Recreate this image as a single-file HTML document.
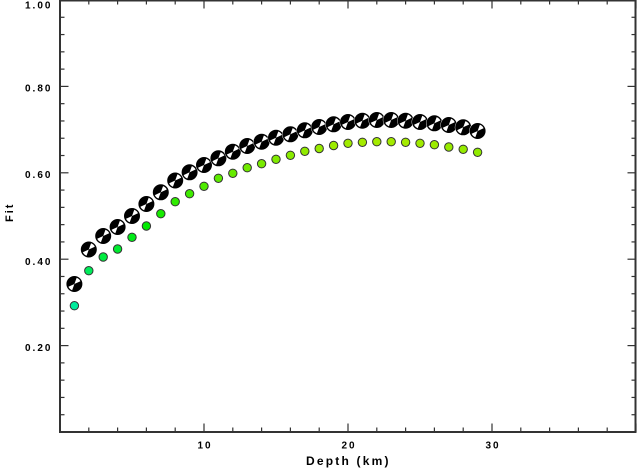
<!DOCTYPE html>
<html><head><meta charset="utf-8"><style>
html,body{margin:0;padding:0;background:#fff;}
svg{display:block;}
text{font-family:"Liberation Sans",Arial,sans-serif;font-weight:bold;fill:#000;}
</style></head><body>
<svg id="c" width="637" height="468" viewBox="0 0 637 468" xmlns="http://www.w3.org/2000/svg">
<g id="ticks" stroke="#333" stroke-width="1.2"></g>
<rect x="60" y="0.5" width="575.5" height="431.5" fill="none" stroke="#333" stroke-width="2"/>
<g font-size="10" letter-spacing="2">
<text x="25" y="8.5">1.00</text>
<text x="25" y="91.5">0.80</text>
<text x="25" y="178">0.60</text>
<text x="25" y="264.8">0.40</text>
<text x="25" y="351.2">0.20</text>
<text x="205" y="448.5" text-anchor="middle">10</text>
<text x="349" y="448.5" text-anchor="middle">20</text>
<text x="493" y="448.5" text-anchor="middle">30</text>
</g>
<text x="306" y="465" font-size="12" letter-spacing="2.2">Depth (km)</text>
<text transform="translate(13,222) rotate(-90)" font-size="11" letter-spacing="2">Fit</text>
<g id="green"></g>
<g id="balls"></g>
</svg>
<script>
(function(){
var NS="http://www.w3.org/2000/svg";
function el(n,a,p){var e=document.createElementNS(NS,n);for(var k in a)e.setAttribute(k,a[k]);p.appendChild(e);return e;}
var t=document.getElementById('ticks');
for(var k=0;k<=40;k+=2){var x=60+k*14.4;var L=(k%10==0)?8.5:4.5;
 el('line',{x1:x,y1:432,x2:x,y2:432-L},t);
 el('line',{x1:x,y1:0,x2:x,y2:L},t);}
for(var i=0;i<=25;i++){var y=432-i*17.28;var L=(i%5==0)?8.5:4.5;
 el('line',{x1:60,y1:y,x2:60+L,y2:y},t);
 el('line',{x1:636,y1:y,x2:636-L,y2:y},t);}
var by=[284,249.5,236,227,216,204,192.3,180.5,172.3,165,158.3,151.7,146,141.7,137.7,134.3,130.3,127,124.3,122,120.7,120,120,120.7,122,123.3,125,127.3,131];
var gy=[305.7,270.7,257,249,237.3,226,213.7,201.7,193.7,186.3,178.3,173.3,167.7,163.7,159.3,155.3,151.3,148.5,145.5,143.3,142.3,141.7,141.7,142.3,143.3,144.7,147,149.3,152.3];
var g=document.getElementById('green');
for(var d=1;d<=29;d++){var x=60+d*14.4;var y=gy[d-1];var fit=(432-y)/432;
 var h=160-(fit-0.294)/(0.672-0.294)*82;
 el('circle',{cx:x,cy:y,r:4.2,fill:'hsl('+h.toFixed(0)+',100%,46%)',stroke:'#333','stroke-width':1},g);}
var b=document.getElementById('balls');
function wedge(cx,cy,r,a1,a2){var r1=a1*Math.PI/180,r2=a2*Math.PI/180;
 return 'M'+cx+','+cy+' L'+(cx+r*Math.cos(r1)).toFixed(2)+','+(cy+r*Math.sin(r1)).toFixed(2)+' A'+r+','+r+' 0 0 1 '+(cx+r*Math.cos(r2)).toFixed(2)+','+(cy+r*Math.sin(r2)).toFixed(2)+' Z';}
for(var d=1;d<=29;d++){var x=60+d*14.4;var y=by[d-1];
 el('circle',{cx:x,cy:y,r:8.4,fill:'#fff'},b);
 el('circle',{cx:x,cy:y,r:7.5,fill:'#000',stroke:'#000','stroke-width':1},b);
 el('path',{d:wedge(x,y,6.6,-70,-25),fill:'#fff'},b);
 el('path',{d:wedge(x,y,6.6,110,155),fill:'#fff'},b);}
})();
</script>
</body></html>
